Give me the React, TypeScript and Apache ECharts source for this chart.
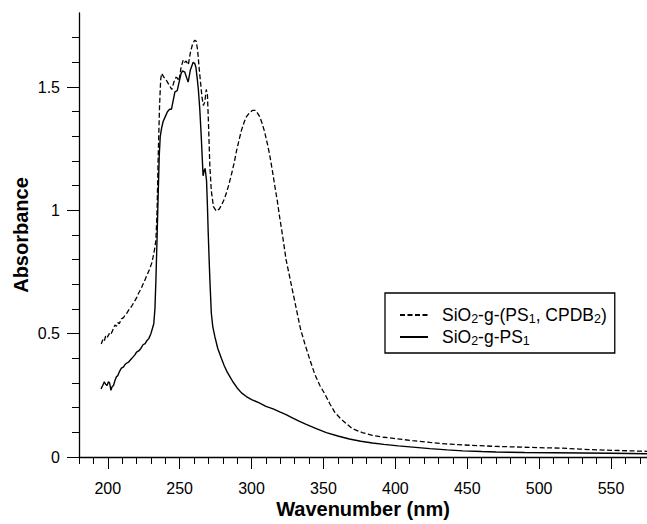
import React, { useEffect, useRef } from "react";
import * as echarts from "echarts";

const dashedName = "SiO2-g-(PS1, CPDB2)";
const solidName = "SiO2-g-PS1";

const dashedNm = [195.5,196.5,197.5,198.5,199.5,201,202,203.5,205,206,207,208,209.5,211,212,213.5,215,216.5,218,220,221.5,223,224.5,226,227.5,229,230.5,231.5,232.5,233.5,234.3,235,236,236.8,237.5,239,240.5,242,243.5,244.5,246,247.5,248.5,249.5,251,252.5,253.5,254.5,256,257.5,259,260.5,261.5,262.5,263.5,264.5,265.5,266.5,267.5,268.5,269.3,270,271,272,273.5,275.5,277.5,279,281,282.5,284,286,288,289.5,291.5,293,295,296.5,298.5,300.5,302.5,304,305.7,307.5,309,311,312.6,314.5,316,318,319.6,321.5,324,326.5,329,331.5,334,337,340.5,344,347.5,351,354.5,358,362,366,370,377,384,392,401,412,424,435,447,458,470,482,493,505,516,528,540,552,563,575];
const dashedAbs = [0.458,0.475,0.468,0.49,0.483,0.5,0.495,0.515,0.535,0.53,0.545,0.54,0.56,0.565,0.575,0.585,0.6,0.61,0.625,0.645,0.665,0.68,0.7,0.72,0.74,0.76,0.785,0.81,0.84,0.88,1.0,1.2,1.42,1.53,1.555,1.54,1.53,1.515,1.5,1.49,1.52,1.54,1.535,1.525,1.58,1.61,1.6,1.605,1.59,1.64,1.675,1.69,1.685,1.65,1.58,1.52,1.46,1.425,1.44,1.49,1.47,1.36,1.18,1.08,1.015,0.997,1.005,1.02,1.045,1.07,1.1,1.145,1.195,1.24,1.29,1.325,1.36,1.38,1.395,1.405,1.405,1.395,1.38,1.35,1.32,1.27,1.225,1.16,1.105,1.035,0.97,0.9,0.8,0.73,0.66,0.59,0.52,0.46,0.395,0.335,0.29,0.255,0.215,0.18,0.155,0.135,0.115,0.099,0.088,0.08,0.074,0.066,0.059,0.053,0.049,0.046,0.043,0.041,0.039,0.037,0.036,0.032,0.029,0.027,0.025,0.023];

const solidNm = [195.3,196.5,197.6,198.5,199.5,200.5,201.3,202.2,203,204,205,206,207,208,209.5,211,212,213,214.5,216,217.5,219,220,221.5,223,224.5,226,227,228.5,230,231,232,232.8,233.5,234.2,235,235.8,236.5,237.5,238.5,240,241.5,243,244.3,245.5,246.7,248.3,250,251,252,253.6,255,255.9,257.5,259.4,260.5,261.3,262.3,263,264,265,266.3,267,267.7,268.7,269.3,269.8,270.5,271,272,273,274.4,276.5,279,281,283,285,287,290,293,296.4,300,305,310,315,320,324,328,333,338,345,352,360,368,376,384,392,402,412,424,436,447,460,470,490,510,530,550,575];
const solidAbs = [0.276,0.29,0.305,0.295,0.29,0.305,0.3,0.27,0.285,0.29,0.31,0.325,0.33,0.345,0.36,0.365,0.375,0.38,0.385,0.395,0.405,0.415,0.425,0.43,0.44,0.455,0.46,0.47,0.48,0.5,0.52,0.54,0.6,0.72,0.87,1.05,1.22,1.3,1.335,1.36,1.38,1.4,1.41,1.41,1.445,1.48,1.485,1.53,1.555,1.565,1.56,1.535,1.52,1.57,1.6,1.595,1.58,1.53,1.49,1.41,1.3,1.14,1.16,1.17,1.12,1.02,0.92,0.8,0.72,0.585,0.53,0.49,0.44,0.4,0.37,0.345,0.325,0.305,0.28,0.26,0.245,0.233,0.22,0.205,0.195,0.182,0.172,0.16,0.145,0.132,0.115,0.099,0.085,0.073,0.064,0.057,0.051,0.045,0.04,0.034,0.029,0.025,0.022,0.02,0.018,0.017,0.016,0.015,0.013];

const yMajor = [0, 0.5, 1, 1.5];
const yMinor = [0.1, 0.2, 0.3, 0.4, 0.6, 0.7, 0.8, 0.9, 1.1, 1.2, 1.3, 1.4, 1.6, 1.7];
const xMajor = [200, 250, 300, 350, 400, 450, 500, 550];
const xMinor = [180, 190, 210, 220, 230, 240, 260, 270, 280, 290, 310, 320, 330, 340, 360, 370, 380, 390, 410, 420, 430, 440, 460, 470, 480, 490, 510, 520, 530, 540, 560, 570];

const FONT = "'Liberation Sans', Arial, Helvetica, sans-serif";

export default function App() {
  const ref = useRef<HTMLDivElement>(null);
  useEffect(() => {
    if (!ref.current) return;
    const chart = echarts.init(ref.current, null, { renderer: "svg" });
    const black = "#000";
    const clear = "rgba(0,0,0,0)";
    const baseAxis = {
      type: "value",
      axisLine: { show: false },
      splitLine: { show: false },
      axisLabel: { show: false },
    };
    chart.setOption({
      animation: false,
      backgroundColor: "#fff",
      textStyle: { fontFamily: FONT },
      grid: { left: 79, top: 13, right: 0, bottom: 61, containLabel: false },
      xAxis: [
        {
          ...baseAxis,
          min: 180, max: 575, interval: 10, position: "bottom",
          axisLine: { show: true, onZero: false, lineStyle: { color: black, width: 1.3 } },
          axisTick: { show: true, length: 7, customValues: xMinor, lineStyle: { color: black, width: 1 } },
          name: "Wavenumber (nm)",
          nameLocation: "middle",
          nameGap: 42,
          nameTextStyle: { fontSize: 20, fontWeight: "bold", color: black, fontFamily: FONT },
        },
        {
          ...baseAxis,
          min: 180, max: 575, interval: 10, position: "bottom",
          axisTick: { show: true, length: 12, customValues: xMajor, lineStyle: { color: black, width: 1 } },
          axisLabel: { show: true, customValues: xMajor, fontSize: 16, color: black, margin: 23, fontFamily: FONT },
        },
      ],
      yAxis: [
        {
          ...baseAxis,
          min: 0, max: 1.8, interval: 0.1, position: "left",
          axisLine: { show: true, onZero: false, lineStyle: { color: black, width: 1.3 } },
          axisTick: { show: true, length: 7, customValues: yMinor, lineStyle: { color: black, width: 1 } },
          name: "Absorbance",
          nameLocation: "middle",
          nameGap: 48,
          nameTextStyle: { fontSize: 20, fontWeight: "bold", color: black, fontFamily: FONT },
        },
        {
          ...baseAxis,
          min: 0, max: 1.8, interval: 0.1, position: "left",
          axisTick: { show: true, length: 12, customValues: yMajor, lineStyle: { color: black, width: 1 } },
          axisLabel: { show: true, customValues: yMajor, fontSize: 16, color: black, margin: 19, fontFamily: FONT },
        },
      ],
      legend: {
        orient: "vertical",
        left: 385,
        top: 293,
        padding: [12, 8, 6, 14],
        itemGap: 2,
        itemWidth: 28,
        itemHeight: 14,
        borderColor: black,
        borderWidth: 1.3,
        backgroundColor: "#fff",
        itemStyle: { color: clear, borderColor: clear, borderWidth: 0, opacity: 0 },
        data: [dashedName, solidName],
        formatter: (name: string) =>
          name === dashedName
            ? "{g|}SiO{s|2}-g-(PS{s|1}, CPDB{s|2})"
            : "{g|}SiO{s|2}-g-PS{s|1}",
        textStyle: {
          fontSize: 17.5,
          color: black,
          fontFamily: FONT,
          lineHeight: 20,
          rich: {
            g: { width: 9 },
            s: { fontSize: 12.5, lineHeight: 14, verticalAlign: "bottom", color: black, fontFamily: FONT },
          },
        },
      },
      series: [
        {
          name: dashedName,
          type: "line",
          xAxisIndex: 0,
          yAxisIndex: 0,
          showSymbol: false,
          symbol: "none",
          smooth: false,
          lineStyle: { color: black, width: 1.3, type: [5, 2.5] },
          itemStyle: { color: black },
          data: dashedNm.map((x, i) => [x, dashedAbs[i]]),
        },
        {
          name: solidName,
          type: "line",
          xAxisIndex: 0,
          yAxisIndex: 0,
          showSymbol: false,
          symbol: "none",
          smooth: false,
          lineStyle: { color: black, width: 1.4, type: "solid" },
          itemStyle: { color: black },
          data: solidNm.map((x, i) => [x, solidAbs[i]]),
        },
      ],
    });
    return () => chart.dispose();
  }, []);
  return (
    <div
      ref={ref}
      style={{ position: "absolute", left: 0, top: 0, width: 647, height: 524, background: "#fff" }}
    />
  );
}
